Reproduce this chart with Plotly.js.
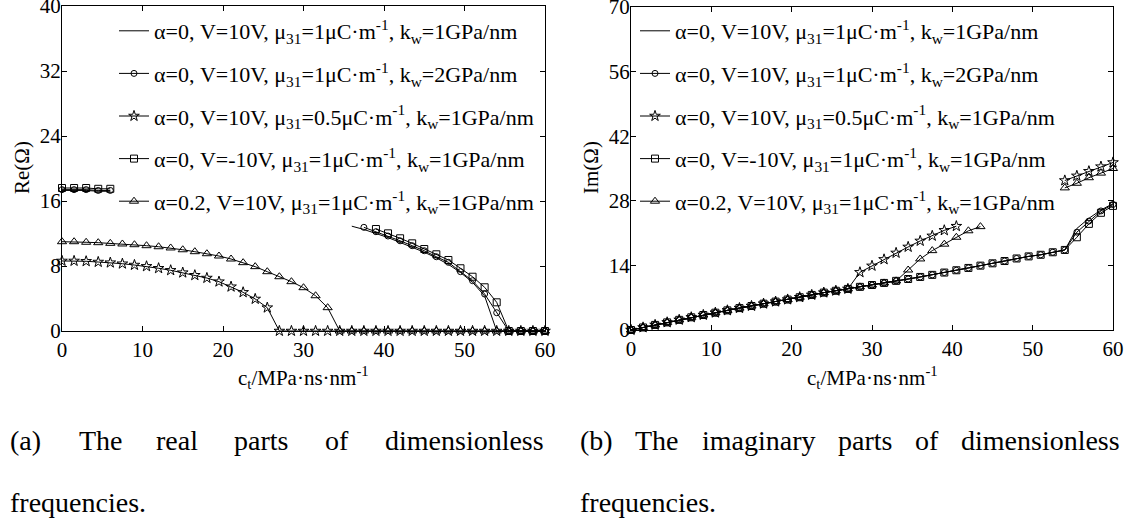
<!DOCTYPE html>
<html><head><meta charset="utf-8">
<script src="https://cdn.plot.ly/plotly-3.0.1.min.js"></script>
<style>html,body{margin:0;padding:0;background:#fff;}</style>
</head><body>
<div id="chart" style="width:1131px;height:521px"></div>
<script>
// c_t values (MPa·ns·nm^-1)
const ct = [0,1.5,3,4.5,6,7.5,9,10.5,12,13.5,15,16.5,18,19.5,21,22.5,24,25.5,27,28.5,30,31.5,33,34.5,36,37.5,39,40.5,42,43.5,45,46.5,48,49.5,51,52.5,54,55.5,57,58.5,60];

const seriesNames = [
  'α=0, V=10V, μ<sub>31</sub>=1μC·m<sup>-1</sup>, k<sub>w</sub>=1GPa/nm',
  'α=0, V=10V, μ<sub>31</sub>=1μC·m<sup>-1</sup>, k<sub>w</sub>=2GPa/nm',
  'α=0, V=10V, μ<sub>31</sub>=0.5μC·m<sup>-1</sup>, k<sub>w</sub>=1GPa/nm',
  'α=0, V=-10V, μ<sub>31</sub>=1μC·m<sup>-1</sup>, k<sub>w</sub>=1GPa/nm',
  'α=0.2, V=10V, μ<sub>31</sub>=1μC·m<sup>-1</sup>, k<sub>w</sub>=1GPa/nm'
];

// Real parts Re(Ω)
const reS1 = [17.3,17.3,17.3,17.2,17.2,null,null,null,null,null,null,null,null,null,null,null,null,null,null,null,null,null,null,null,12.9,12.5,12.0,11.5,10.9,10.3,9.7,9.0,8.2,7.2,6.0,4.3,0,0,0,0,0];
const reS2 = [17.4,17.4,17.4,17.3,17.3,null,null,null,null,null,null,null,null,null,null,null,null,null,null,null,null,null,null,null,null,12.76,12.22,11.69,11.1,10.5,9.88,9.14,8.45,7.3,6.19,4.55,2.25,0,0,0,0];
const reS3 = [8.62,8.62,8.58,8.49,8.41,8.28,8.12,7.96,7.72,7.47,7.18,6.86,6.52,6.07,5.45,4.76,3.94,2.87,0,0,0,0,0,0,0,0,0,0,0,0,0,0,0,0,0,0,0,0,0,0,0];
const reS4 = [17.6,17.6,17.6,17.5,17.5,null,null,null,null,null,null,null,null,null,null,null,null,null,null,null,null,null,null,null,null,null,12.55,12.02,11.41,10.79,10.09,9.44,8.74,7.72,6.68,5.38,3.53,0,0,0,0];
const reS5 = [10.99,10.99,10.92,10.87,10.79,10.71,10.62,10.5,10.37,10.22,10.0,9.76,9.51,9.23,8.86,8.41,7.92,7.3,6.68,6.07,5.33,4.34,2.87,0,0,0,0,0,0,0,0,0,0,0,0,0,0,0,0,0,0];

// Imaginary parts Im(Ω)
const imS1 = [0,0.55,1.1,1.65,2.2,2.75,3.25,3.75,4.25,4.75,5.2,5.7,6.15,6.6,7.1,7.6,8.1,8.5,8.9,9.35,9.75,10.2,10.65,11.05,11.5,11.95,12.45,12.95,13.45,13.95,14.45,14.95,15.5,15.95,16.3,16.85,17.35,22.0,24.2,26.0,27.4];
const imS2 = [0,0.55,1.1,1.65,2.2,2.75,3.25,3.75,4.25,4.75,5.2,5.7,6.15,6.6,7.1,7.6,8.1,8.5,8.9,9.35,9.75,10.2,10.65,11.05,11.5,11.95,12.45,12.95,13.45,13.95,14.45,14.95,15.5,15.95,16.3,16.85,17.35,21.2,23.6,25.8,27.2];
const imS3 = [0,0.55,1.1,1.65,2.2,2.75,3.25,3.75,4.25,4.75,5.2,5.7,6.15,6.6,7.1,7.6,8.1,8.5,8.9,12.5,13.9,15.3,16.7,18.0,19.3,20.4,21.6,22.5,null,null,null,null,null,null,null,null,32.4,33.4,34.4,35.4,36.3];
const imS4 = [0,0.55,1.1,1.65,2.2,2.75,3.25,3.75,4.25,4.75,5.2,5.7,6.15,6.6,7.1,7.6,8.1,8.5,8.9,9.35,9.75,10.2,10.65,11.05,11.5,11.95,12.45,12.95,13.45,13.95,14.45,14.95,15.5,15.95,16.3,16.85,17.35,20.1,23.0,25.4,26.9];
const imS5 = [0,0.55,1.1,1.65,2.2,2.75,3.25,3.75,4.25,4.75,5.2,5.7,6.15,6.6,7.1,7.6,8.1,8.5,8.9,9.35,9.75,10.2,10.65,13.0,15.4,17.2,18.6,20.1,21.5,22.4,null,null,null,null,null,null,30.8,31.8,33.0,34.0,35.0];

const xTicks = [0,10,20,30,40,50,60];
const reTicks = [0,8,16,24,32,40];
const imTicks = [0,14,28,42,56,70];

const FONT = '"Times New Roman", "Liberation Serif", serif';
const styles = [
  {mode:'lines'},
  {mode:'lines+markers', marker:{symbol:'circle-open', size:6}},
  {mode:'lines+markers', marker:{symbol:'star-open', size:8}},
  {mode:'lines+markers', marker:{symbol:'square-open', size:7}},
  {mode:'lines+markers', marker:{symbol:'triangle-up-open', size:8}}
];
const reData = [reS1, reS2, reS3, reS4, reS5];
const imData = [imS1, imS2, imS3, imS4, imS5];

const traces = [];
function addTraces(dataArr, xa, ya, legendId, prefix) {
  dataArr.forEach((ys, i) => {
    const st = styles[i];
    const t = {
      x: ct, y: ys, xaxis: xa, yaxis: ya, type: 'scatter', mode: st.mode,
      name: seriesNames[i], legend: legendId, legendgroup: prefix + i,
      line: {color: '#000', width: 1}, cliponaxis: false, connectgaps: false,
      hoverinfo: 'skip'
    };
    if (st.marker) t.marker = {symbol: st.marker.symbol, size: st.marker.size, color: '#000', line: {color: '#000', width: 1}};
    traces.push(t);
  });
}
addTraces(reData, 'x', 'y', 'legend', 'a');
addTraces(imData, 'x2', 'y2', 'legend2', 'b');

const W = 1131, H = 521;
function axisBase(extra) {
  return Object.assign({
    showline: true, linecolor: '#000', linewidth: 1, mirror: 'ticks',
    ticks: 'inside', ticklen: 5, tickcolor: '#000', tickwidth: 1,
    showgrid: false, zeroline: false, fixedrange: true, ticklabeloverflow: 'allow',
    tickfont: {family: FONT, size: 21, color: '#000'}, automargin: false
  }, extra);
}

const ann = [];
function txt(text, px, py, size, opts) {
  ann.push(Object.assign({text: text, xref: 'paper', yref: 'paper', x: px / W, y: 1 - py / H,
    showarrow: false, font: {family: FONT, size: size, color: '#000'}, xanchor: 'left', yanchor: 'middle'}, opts || {}));
}
// axis titles
txt('Re(Ω)', 22, 168, 21, {textangle: -90, xanchor: 'center'});
txt('Im(Ω)', 591, 168, 21, {textangle: -90, xanchor: 'center'});
txt('c<sub>t</sub>/MPa·ns·nm<sup>-1</sup>', 303, 377, 21, {xanchor: 'center'});
txt('c<sub>t</sub>/MPa·ns·nm<sup>-1</sup>', 872, 377, 21, {xanchor: 'center'});
// captions (justified words)
const capA = ['(a)', 'The', 'real', 'parts', 'of', 'dimensionless'];
const capAx = [8, 77, 154, 232, 323, 383];
const capB = ['(b)', 'The', 'imaginary', 'parts', 'of', 'dimensionless'];
const capBx = [578, 633, 700, 836, 913, 959];
capA.forEach((w, i) => txt(w, capAx[i], 440, 28));
capB.forEach((w, i) => txt(w, capBx[i], 440, 28));
txt('frequencies.', 8, 502, 28);
txt('frequencies.', 578, 502, 28);

const legendBase = {
  bgcolor: 'rgba(0,0,0,0)', borderwidth: 0, xanchor: 'left', yanchor: 'top',
  font: {family: FONT, size: 22, color: '#000'}, tracegroupgap: 11, itemclick: false, itemdoubleclick: false
};

const layout = {
  width: W, height: H, margin: {l: 0, r: 0, t: 0, b: 0},
  paper_bgcolor: '#fff', plot_bgcolor: '#fff', showlegend: true,
  xaxis: axisBase({domain: [62 / W, 545 / W], range: [0, 60], tickvals: xTicks, anchor: 'y'}),
  yaxis: axisBase({domain: [(H - 331) / H, (H - 6) / H], range: [0, 40], tickvals: reTicks, anchor: 'x', ticklabelstandoff: -4}),
  xaxis2: axisBase({domain: [631 / W, 1113 / W], range: [0, 60], tickvals: xTicks, anchor: 'y2'}),
  yaxis2: axisBase({domain: [(H - 330) / H, (H - 7) / H], range: [0, 70], tickvals: imTicks, anchor: 'x2', ticklabelstandoff: -4}),
  legend: Object.assign({x: 114 / W, y: 1 - 10 / H}, legendBase),
  legend2: Object.assign({x: 635 / W, y: 1 - 10 / H}, legendBase),
  annotations: ann
};

Plotly.newPlot('chart', traces, layout, {displayModeBar: false, staticPlot: true});
</script>
</body></html>
